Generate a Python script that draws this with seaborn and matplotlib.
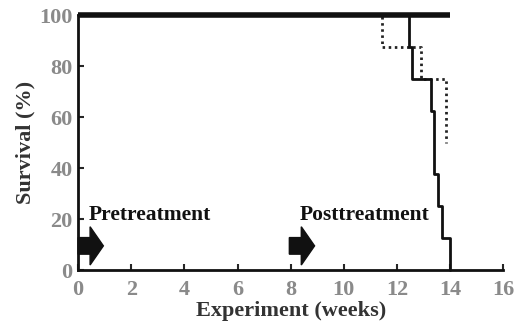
import pandas as pd
import matplotlib
matplotlib.use("Agg")
import matplotlib.pyplot as plt
import seaborn as sns

# survival curves (weeks, % survival)
weeks_ctrl = [0, 14]
surv_ctrl = [100, 100]

weeks_solid = [0, 12.45, 12.55, 13.3, 13.4, 13.55, 13.7, 14.0]
surv_solid = [100, 87.5, 75, 62.5, 37.5, 25, 12.5, 0]

weeks_dot = [0, 11.45, 12.9, 13.85]
surv_dot = [100, 87.5, 75, 50]

x_ticks = [0, 2, 4, 6, 8, 10, 12, 14, 16]
y_ticks = [0, 20, 40, 60, 80, 100]

arrow_starts = [0, 7.95]
arrow_labels = ["Pretreatment", "Posttreatment"]

sns.set_style("ticks")
plt.rcParams['font.family'] = ['Liberation Serif', 'DejaVu Serif']
plt.rcParams['font.weight'] = 'bold'

fig = plt.figure(figsize=(5.14, 3.27), dpi=100)
ax = fig.add_axes([0.152, 0.174, 0.827, 0.780])

ctrl = pd.DataFrame({'week': weeks_ctrl, 'surv': surv_ctrl})
solid = pd.DataFrame({'week': weeks_solid, 'surv': surv_solid})
dot = pd.DataFrame({'week': weeks_dot, 'surv': surv_dot})

sns.lineplot(data=dot, x='week', y='surv', ax=ax, color='#222222', lw=2.0,
             linestyle=(0, (0.9, 1.3)), drawstyle='steps-post', sort=False,
             estimator=None, clip_on=False, zorder=3)
sns.lineplot(data=solid, x='week', y='surv', ax=ax, color='#111111', lw=2.0,
             drawstyle='steps-post', sort=False, estimator=None,
             clip_on=False, zorder=4)
sns.lineplot(data=ctrl, x='week', y='surv', ax=ax, color='#111111', lw=4.0,
             drawstyle='steps-post', sort=False, estimator=None,
             clip_on=False, zorder=5, solid_capstyle='butt')

# treatment arrows
for x0, lab in zip(arrow_starts, arrow_labels):
    ax.arrow(x0, 9.5, 0.45, 0, width=6.5, head_width=15, head_length=0.5,
             length_includes_head=False, color='#111111', clip_on=False, zorder=6)
    ax.text(x0 + 0.38, 21.5, lab, fontsize=15.5, fontweight='bold',
            color='#111111', va='center', ha='left')

ax.set_xlim(0, 16)
ax.set_ylim(0, 100)
ax.set_xticks(x_ticks)
ax.set_yticks(y_ticks)
ax.tick_params(direction='in', length=4, width=1.5, labelsize=16,
               labelcolor='#8a8a8a')
ax.tick_params(axis='x', pad=7)
ax.tick_params(axis='y', pad=4)
for lab in ax.get_xticklabels() + ax.get_yticklabels():
    lab.set_fontweight('bold')

ax.set_xlabel('Experiment (weeks)', fontsize=16, fontweight='bold',
              color='#333333', labelpad=1)
ax.set_ylabel('Survival (%)', fontsize=16, fontweight='bold',
              color='#333333', labelpad=3)

sns.despine(ax=ax)
for side in ['left', 'bottom']:
    ax.spines[side].set_linewidth(2)
    ax.spines[side].set_color('#111111')

fig.savefig('out.png', dpi=100)
